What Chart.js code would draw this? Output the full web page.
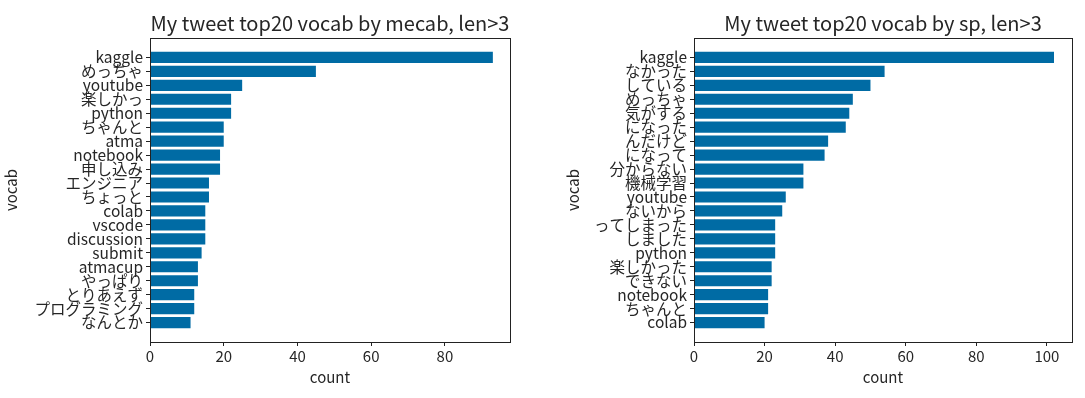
<!DOCTYPE html>
<html>
<head>
<meta charset="utf-8">
<script src="https://cdn.jsdelivr.net/npm/chart.js@4/dist/chart.umd.min.js"></script>
<style>
    html, body { margin: 0; padding: 0; background: #fff; }
    #wrap { position: relative; width: 1085px; height: 398px; }
    .box { position: absolute; top: 0; height: 398px; }
</style>
</head>
<body>
<div id="wrap">
    <div class="box" style="left:0;width:530px"><canvas id="mecabChart"></canvas></div>
    <div class="box" style="left:542px;width:543px"><canvas id="spChart"></canvas></div>
</div>
<script>
const mecabWords = ['kaggle', 'めっちゃ', 'youtube', '楽しかっ', 'python', 'ちゃんと', 'atma', 'notebook', '申し込み', 'エンジニア',
    'ちょっと', 'colab', 'vscode', 'discussion', 'submit', 'atmacup', 'やっぱり', 'とりあえず', 'プログラミング', 'なんとか'];
const mecabCounts = [93, 45, 25, 22, 22, 20, 20, 19, 19, 16, 16, 15, 15, 15, 14, 13, 13, 12, 12, 11];

const spWords = ['kaggle', 'なかった', 'している', 'めっちゃ', '気がする', 'になった', 'んだけど', 'になって', '分からない', '機械学習',
    'youtube', 'ないから', 'ってしまった', 'しました', 'python', '楽しかった', 'できない', 'notebook', 'ちゃんと', 'colab'];
const spCounts = [102, 54, 50, 45, 44, 43, 38, 37, 31, 31, 26, 25, 23, 23, 23, 22, 22, 21, 21, 20];

const xTicks = [0, 20, 40, 60, 80, 100];

(function () {
    const FONT = "'Noto Sans CJK JP', 'Noto Sans', sans-serif";
    const INK = '#262626';
    const BAR = '#006ba4';

    // frame around the plot area + title drawn above it
    const framePlugin = {
        id: 'frame',
        afterDraw(chart, args, opts) {
            const { ctx, chartArea: a } = chart;
            ctx.save();
            ctx.strokeStyle = '#222';
            ctx.lineWidth = 1;
            ctx.strokeRect(Math.round(a.left) + 0.5, Math.round(a.top) + 0.5,
                Math.round(a.right - a.left), Math.round(a.bottom - a.top));
            ctx.fillStyle = INK;
            ctx.font = '20px ' + FONT;
            ctx.textAlign = 'center';
            ctx.textBaseline = 'bottom';
            ctx.fillText(opts.text, (a.left + a.right) / 2, a.top - 5);
            ctx.restore();
        }
    };

    function chart(id, words, counts, cfg) {
        const canvas = document.getElementById(id);
        const points = counts.map((v, i) => ({ x: v, y: i }));
        new Chart(canvas, {
            type: 'bar',
            data: {
                datasets: [{ data: points, backgroundColor: BAR, borderWidth: 0,
                    barPercentage: 0.8, categoryPercentage: 1 }]
            },
            options: {
                indexAxis: 'y',
                responsive: true,
                maintainAspectRatio: false,
                animation: false,
                layout: { padding: { top: 38, right: cfg.padRight, left: cfg.padLeft, bottom: 0 } },
                plugins: { legend: { display: false }, tooltip: { enabled: false }, frame: { text: cfg.title } },
                scales: {
                    x: {
                        type: 'linear', min: 0, max: cfg.xMax, offset: false,
                        afterBuildTicks: (s) => { s.ticks = xTicks.filter((t) => t <= cfg.xMax).map((v) => ({ value: v })); },
                        afterFit: (s) => { s.height = 56; },
                        grid: { drawOnChartArea: false, drawTicks: true, tickLength: 4, color: '#222', offset: false },
                        border: { display: true, color: '#222' },
                        ticks: { color: INK, font: { family: FONT, size: 15 }, padding: 1 },
                        title: { display: true, text: 'count', color: INK, font: { family: FONT, size: 15 }, padding: { top: 0, bottom: 12 } }
                    },
                    y: {
                        type: 'linear', min: -1.39, max: 20.39, reverse: true, offset: false,
                        afterBuildTicks: (s) => { s.ticks = words.map((w, i) => ({ value: i })); },
                        afterFit: (s) => { s.width = cfg.yWidth; },
                        grid: { drawOnChartArea: false, drawTicks: true, tickLength: 4, color: '#222', offset: false },
                        border: { display: true, color: '#222' },
                        ticks: { color: INK, font: { family: FONT, size: 15.5 }, padding: 3, autoSkip: false,
                            callback: (v) => words[v] },
                        title: { display: true, text: 'vocab', color: INK, font: { family: FONT, size: 15 }, padding: { top: 2, bottom: 0 } }
                    }
                }
            },
            plugins: [framePlugin]
        });
    }

    chart('mecabChart', mecabWords, mecabCounts,
        { title: 'My tweet top20 vocab by mecab, len>3', xMax: 97.65, padLeft: 0, padRight: 20, yWidth: 150 });
    chart('spChart', spWords, spCounts,
        { title: 'My tweet top20 vocab by sp, len>3', xMax: 107.1, padLeft: 20, padRight: 13, yWidth: 132 });
})();
</script>
</body>
</html>
